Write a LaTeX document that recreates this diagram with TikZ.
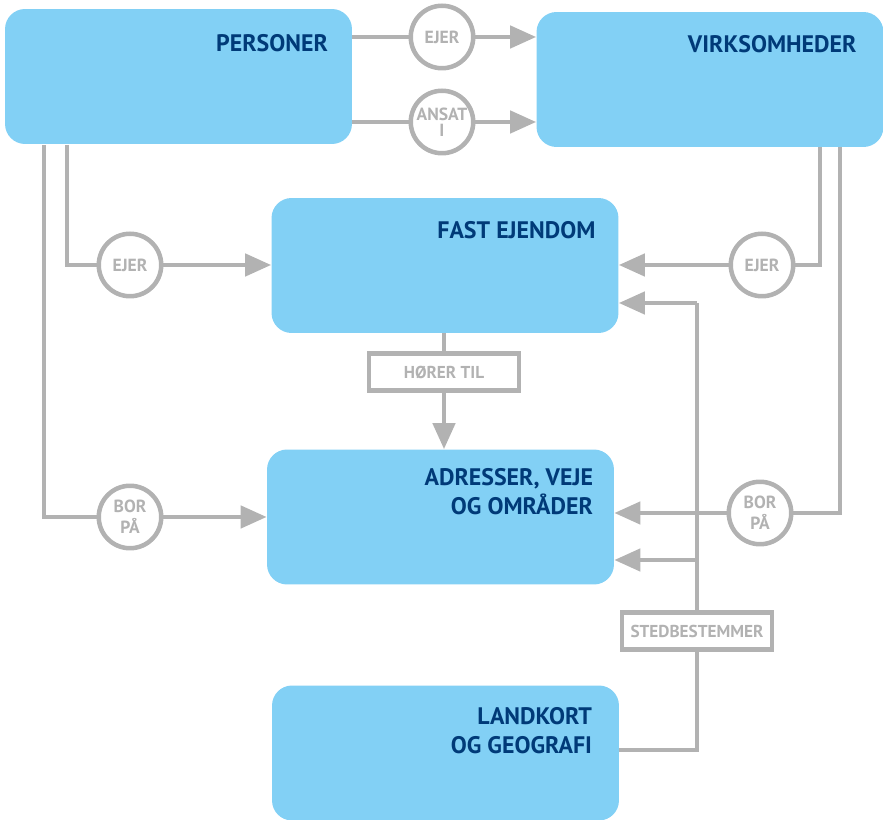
\documentclass[tikz,border=0pt]{standalone}
\usepackage{fontspec}
\setmainfont{PT Sans}
\usetikzlibrary{positioning,arrows.meta}
\definecolor{boxblue}{RGB}{130,208,245}
\definecolor{textblue}{RGB}{0,58,120}
\definecolor{linegray}{RGB}{178,178,178}

\begin{document}
\begin{tikzpicture}[x=0.02cm,y=-0.02cm,
        box/.style={fill=boxblue, rounded corners=0.4cm, minimum width=6.94cm, minimum height=2.7cm},
        title/.style={font=\bfseries\fontsize{13.6}{16.5}\selectfont, text=textblue, align=right, inner sep=0pt},
        conn/.style={draw=linegray, line width=0.09cm},
        arr/.style={conn, -{Triangle[length=0.52cm,width=0.44cm]}},
        rel/.style={circle, draw=linegray, line width=0.09cm, fill=white, minimum size=1.25cm, inner sep=0pt,
            font=\bfseries\fontsize{10}{12}\selectfont, text=linegray, align=center},
        tag/.style={draw=linegray, line width=0.09cm, fill=white, minimum width=3cm, minimum height=0.74cm,
            inner sep=0pt, font=\bfseries\fontsize{9.8}{11}\selectfont, text=linegray}]
        \useasboundingbox (0,0) rectangle (883,820);

        % Kasser
        \node[box] (P) at (178.5,76.5) {};
        \node[box] (V) at (710,79.5)   {};
        \node[box] (F) at (445,265.5)  {};
        \node[box] (A) at (440.5,517)  {};
        \node[box] (L) at (445.5,753)  {};

        % Titler
        \node[title, below left=0.5cm and 0.48cm of P.north east] {PERSONER};
        \node[title, below left=0.46cm and 0.54cm of V.north east] {VIRKSOMHEDER};
        \node[title, below left=0.46cm and 0.46cm of F.north east] {FAST EJENDOM};
        \node[title, below left=0.38cm and 0.42cm of A.north east] {ADRESSER, VEJE\\OG OMRÅDER};
        \node[title, below left=0.44cm and 0.54cm of L.north east] {LANDKORT\\OG GEOGRAFI};

        % Knuder
        \node[rel] (ejer1)  at (442,37)  {EJER};
        \node[rel] (ansat)  at (442,122) {ANSAT\\[-3pt]I};
        \node[rel] (ejer2)  at (130,265) {EJER};
        \node[rel] (ejer3)  at (762,265) {EJER};
        \node[rel] (bor1)   at (130,517) {BOR\\PÅ};
        \node[rel] (bor2)   at (760,513) {BOR\\PÅ};
        \node[tag] (hoerer) at (444,372) {HØRER TIL};
        \node[tag] (sted)   at (697,631) {STEDBESTEMMER};

        % Knaek
        \coordinate (p1) at (67,145);
        \coordinate (p2) at (44,145);
        \coordinate (v1) at (820,147);
        \coordinate (v2) at (840,147);
        \coordinate (lk) at (697,750);
        \coordinate (s1) at (697,303);
        \coordinate (s2) at (697,560);

        % Personer -> virksomheder
        \draw[conn] (P.east |- ejer1) -- (ejer1);
        \draw[arr]  (ejer1) -- (V.west |- ejer1);
        \draw[conn] (P.east |- ansat) -- (ansat);
        \draw[arr]  (ansat) -- (V.west |- ansat);

        % Ejer
        \draw[conn] (p1) |- (ejer2);
        \draw[arr]  (ejer2) -- (F.west |- ejer2);
        \draw[conn] (v1) |- (ejer3);
        \draw[arr]  (ejer3) -- (F.east |- ejer3);

        % Bor paa
        \draw[conn] (p2) |- (bor1);
        \draw[arr]  (bor1) -- (A.west |- bor1);
        \draw[conn] (v2) |- (bor2);
        \draw[arr]  (bor2) -- (A.east |- bor2);

        % Hoerer til
        \draw[conn] (F.south -| hoerer) -- (hoerer);
        \draw[arr]  (hoerer) -- (hoerer |- A.north);

        % Stedbestemmer
        \draw[conn] (L.east |- lk) -| (sted.south);
        \draw[conn] (sted.north) -- (s1);
        \draw[arr]  (s1) -- (F.east |- s1);
        \draw[arr]  (s2) -- (A.east |- s2);
    \end{tikzpicture}
\end{document}
